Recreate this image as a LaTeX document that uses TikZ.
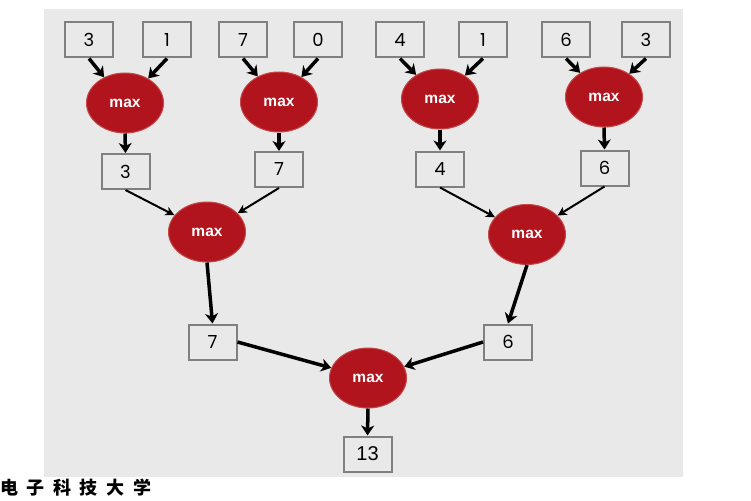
\documentclass[tikz,border=0pt]{standalone}
\usepackage{fontspec}
\setmainfont{Liberation Sans}
\newfontfamily\numfont{Poppins}
\newfontfamily\cjk{Noto Sans CJK SC}
\usetikzlibrary{arrows.meta,shapes.geometric}
\definecolor{bg}{RGB}{233,233,233}
\definecolor{maxred}{RGB}{178,20,30}
\definecolor{maxedge}{RGB}{196,72,72}
\definecolor{boxedge}{RGB}{128,128,128}
\begin{document}
\begin{tikzpicture}[x=1pt,y=-1pt,
  valbox/.style={draw=boxedge,line width=2pt,fill=bg,minimum width=48pt,minimum height=35pt,inner sep=0pt,font=\numfont\fontsize{18}{18}\selectfont},
  maxnode/.style={ellipse,fill=maxred,draw=maxedge,line width=1pt,minimum width=77pt,minimum height=60pt,inner sep=0pt,text=white,font=\bfseries\fontsize{15.5}{15.5}\selectfont},
  thickarrow/.style={line width=3.5pt,-{Stealth[length=10pt,width=13pt,inset=3pt]}},
  thinarrow/.style={line width=2pt,-{Stealth[length=9pt,width=9pt,inset=2.5pt]}}]
\useasboundingbox (0,0) rectangle (751,500);
\fill[bg] (44,9) rectangle (683,477);

% top row
\node[valbox] (a1) at (89,40) {3};
\node[valbox] (a2) at (167,40) {1};
\node[valbox] (a3) at (243,40) {7};
\node[valbox] (a4) at (318,40) {0};
\node[valbox] (a5) at (400,40) {4};
\node[valbox] (a6) at (483,40) {1};
\node[valbox] (a7) at (566,40) {6};
\node[valbox] (a8) at (646,40) {3};

% level 1 max
\node[maxnode] (m1) at (125,103) {max};
\node[maxnode] (m2) at (279,102) {max};
\node[maxnode] (m3) at (440,99) {max};
\node[maxnode] (m4) at (604,97) {max};

% level 1 results
\node[valbox] (b1) at (125.5,171.5) {3};
\node[valbox] (b2) at (279,169.5) {7};
\node[valbox] (b3) at (440,169) {4};
\node[valbox] (b4) at (604.5,168) {6};

% level 2 max
\node[maxnode] (n1) at (207,232) {max};
\node[maxnode] (n2) at (527,234.5) {max};

% level 2 results
\node[valbox] (c1) at (212.5,342) {7};
\node[valbox] (c2) at (508,342) {6};

% final
\node[maxnode] (f) at (368,378) {max};
\node[valbox,font=\fontsize{20}{20}\selectfont] (r) at (367.5,454) {13};

% arrows top -> level 1
\draw[thickarrow] (a1.south) -- (m1);
\draw[thickarrow] (a2.south) -- (m1);
\draw[thickarrow] (a3.south) -- (m2);
\draw[thickarrow] (a4.south) -- (m2);
\draw[thickarrow] (a5.south) -- (m3);
\draw[thickarrow] (a6.south) -- (m3);
\draw[thickarrow] (a7.south) -- (m4);
\draw[thickarrow] (a8.south) -- (m4);

\draw[thickarrow] (m1.south) -- (b1.north);
\draw[thickarrow] (m2.south) -- (b2.north);
\draw[thickarrow] (m3.south) -- (b3.north);
\draw[thickarrow] (m4.south) -- (b4.north);

% level 1 results -> level 2
\draw[thinarrow] (b1.south) -- (n1);
\draw[thinarrow] (b2.south) -- (n1);
\draw[thinarrow] (b3.south) -- (n2);
\draw[thinarrow] (b4.south) -- (n2);

\draw[thickarrow] (n1.south) -- (c1.north);
\draw[thickarrow] (n2.south) -- (c2.north);

\draw[thickarrow] (c1.east) -- (f);
\draw[thickarrow] (c2.west) -- (f);
\draw[thickarrow] (f.south) -- (r.north);

% watermark
\foreach \ch [count=\i] in {电,子,科,技,大,学}
  \node[font=\cjk\bfseries\fontsize{18}{18}\selectfont,inner sep=0pt] (w\i) at ({9+26.6*(\i-1)},488) {\ch};
\end{tikzpicture}
\end{document}
